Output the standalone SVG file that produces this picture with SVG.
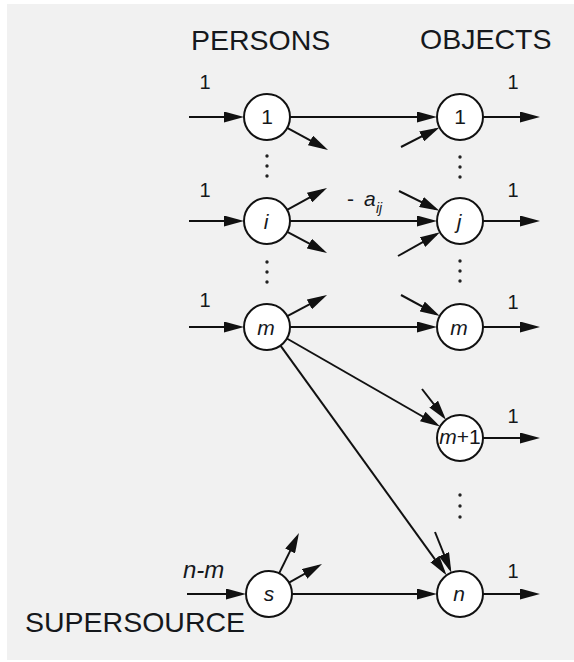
<svg xmlns="http://www.w3.org/2000/svg" width="574" height="662" viewBox="0 0 574 662">
<style>
.bg{fill:#f1f1f1}
.e{stroke:#111;stroke-width:2;fill:none;marker-end:url(#ah)}
.n{fill:#fff;stroke:#111;stroke-width:2}
text{font-family:"Liberation Sans",Arial,sans-serif;fill:#15181c}
.t{font-size:28.5px}
.l{font-size:20px;text-anchor:middle}
.c{font-size:21px;text-anchor:middle}
.it{font-style:italic}
.d{fill:#222}
</style>
<defs>
<marker id="ah" markerUnits="userSpaceOnUse" markerWidth="20" markerHeight="11" refX="16" refY="5.5" orient="auto">
<path d="M0,0 L20,5.5 L0,11 z" fill="#111"/>
</marker>
</defs>
<rect class="bg" x="7" y="4" width="567" height="656"/>
<text class="t" x="191" y="50">PERSONS</text>
<text class="t" x="420" y="49">OBJECTS</text>
<text class="t" x="25" y="632">SUPERSOURCE</text>
<g id="connectors">
<line class="e" x1="189" y1="117" x2="240" y2="117"/>
<line class="e" x1="189" y1="221" x2="240" y2="221"/>
<line class="e" x1="189" y1="327" x2="240" y2="327"/>
<line class="e" x1="187" y1="594" x2="242" y2="594"/>
<line class="e" x1="483" y1="117" x2="536" y2="117"/>
<line class="e" x1="483" y1="221" x2="536" y2="221"/>
<line class="e" x1="483" y1="327" x2="536" y2="327"/>
<line class="e" x1="483" y1="438" x2="536" y2="438"/>
<line class="e" x1="483" y1="594" x2="536" y2="594"/>
<line class="e" x1="290" y1="117" x2="433" y2="117"/>
<line class="e" x1="290" y1="221" x2="433" y2="221"/>
<line class="e" x1="290" y1="327" x2="433" y2="327"/>
<line class="e" x1="292" y1="594" x2="433" y2="594"/>
<line class="e" x1="287.2" y1="127.9" x2="324.5" y2="148.1"/>
<line class="e" x1="287.1" y1="209.9" x2="323.5" y2="189.9"/>
<line class="e" x1="287.3" y1="231.8" x2="323.5" y2="251.1"/>
<line class="e" x1="287.3" y1="316.2" x2="323.5" y2="296.9"/>
<line class="e" x1="279.1" y1="573.4" x2="297.2" y2="536.6"/>
<line class="e" x1="289" y1="582.7" x2="318.5" y2="566"/>
<line class="e" x1="401" y1="147" x2="435.9" y2="129.2"/>
<line class="e" x1="399" y1="191" x2="435.8" y2="209.1"/>
<line class="e" x1="398" y1="256" x2="436.5" y2="234.3"/>
<line class="e" x1="401" y1="295" x2="436.3" y2="314.1"/>
<line class="e" x1="422" y1="389" x2="443.5" y2="416.7"/>
<line class="e" x1="435" y1="532" x2="449.9" y2="569"/>
<line class="e" x1="286.9" y1="338.5" x2="436.6" y2="424.5"/>
<line class="e" x1="280.5" y1="345.7" x2="444.2" y2="572.1"/>
</g>
<g id="dots">
<circle class="d" cx="267" cy="156" r="1.7"/><circle class="d" cx="267" cy="166" r="1.7"/><circle class="d" cx="267" cy="176" r="1.7"/>
<circle class="d" cx="267" cy="262" r="1.7"/><circle class="d" cx="267" cy="272" r="1.7"/><circle class="d" cx="267" cy="282" r="1.7"/>
<circle class="d" cx="460" cy="157" r="1.7"/><circle class="d" cx="460" cy="167" r="1.7"/><circle class="d" cx="460" cy="177" r="1.7"/>
<circle class="d" cx="460" cy="261" r="1.7"/><circle class="d" cx="460" cy="271" r="1.7"/><circle class="d" cx="460" cy="281" r="1.7"/>
<circle class="d" cx="460" cy="495" r="1.7"/><circle class="d" cx="460" cy="506" r="1.7"/><circle class="d" cx="460" cy="517" r="1.7"/>
</g>
<g id="labels">
<text class="l" x="205" y="89">1</text>
<text class="l" x="205" y="197">1</text>
<text class="l" x="205" y="307">1</text>
<text class="l" x="513" y="89">1</text>
<text class="l" x="513" y="197">1</text>
<text class="l" x="513" y="309">1</text>
<text class="l" x="513" y="423">1</text>
<text class="l" x="513" y="578">1</text>
<text x="183" y="578" class="it" font-size="24">n-m</text>
<text x="347" y="206" font-size="21">-</text>
<text x="364" y="206" font-size="21" class="it">a</text>
<text x="376" y="213" font-size="14" class="it">ij</text>
</g>
<g id="p1"><circle class="n" cx="267" cy="117" r="23"/><text class="c" x="267" y="124">1</text></g>
<g id="pi"><circle class="n" cx="267" cy="221" r="23"/><text class="c it" x="266" y="229">i</text></g>
<g id="pm"><circle class="n" cx="267" cy="327" r="23"/><text class="c it" x="266" y="335" font-size="22">m</text></g>
<g id="ps"><circle class="n" cx="269" cy="594" r="23"/><text class="c it" x="269" y="601">s</text></g>
<g id="o1"><circle class="n" cx="460" cy="117" r="23"/><text class="c" x="460" y="124">1</text></g>
<g id="oj"><circle class="n" cx="460" cy="221" r="23"/><text class="c it" x="459" y="229">j</text></g>
<g id="om"><circle class="n" cx="460" cy="327" r="23"/><text class="c it" x="459" y="335" font-size="22">m</text></g>
<g id="om1"><circle class="n" cx="460" cy="438" r="23"/><text class="c" x="460" y="444" font-size="15"><tspan font-style="italic">m</tspan>+1</text></g>
<g id="on"><circle class="n" cx="460" cy="594" r="23"/><text class="c it" x="459" y="601">n</text></g>
</svg>
